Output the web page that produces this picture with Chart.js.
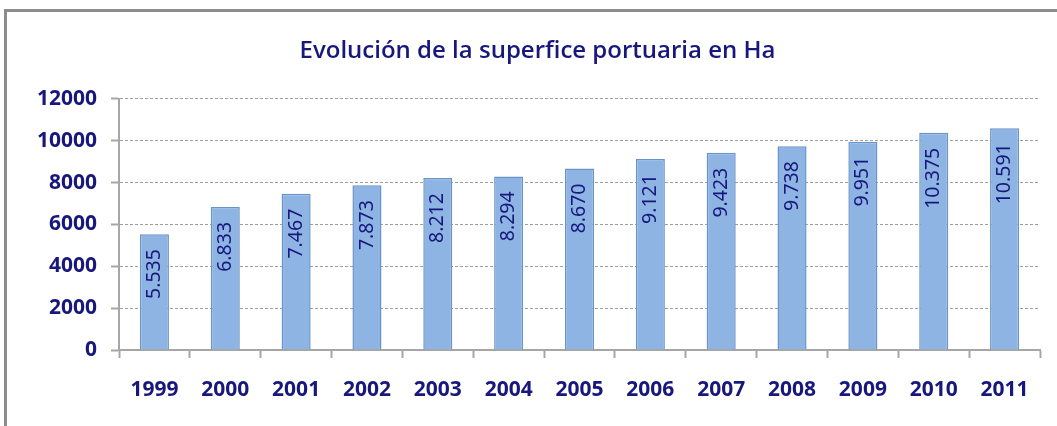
<!DOCTYPE html>
<html>
<head>
<meta charset="utf-8">
<script src="https://cdn.jsdelivr.net/npm/chart.js@4"></script>
<style>
    html, body { margin: 0; padding: 0; background: #fff; }
    #marco {
        position: absolute; left: 0; top: 0; width: 1057px; height: 426px;
    }
    #borde {
        position: absolute; left: 4px; top: 9px; right: -10px; bottom: -10px;
        border-top: 3px solid #8c8c8c; border-left: 3px solid #8c8c8c;
        pointer-events: none;
    }
</style>
</head>
<body>
<div id="marco">
    <canvas id="graficoBarras" width="1057" height="426"></canvas>
    <div id="borde"></div>
</div>
<script>
// Datos del gráfico
const anos = ['1999', '2000', '2001', '2002', '2003', '2004', '2005', '2006', '2007', '2008', '2009', '2010', '2011'];
const superficie = [5535, 6833, 7467, 7873, 8212, 8294, 8670, 9121, 9423, 9738, 9951, 10375, 10591];

const azulTexto = '#17177c';

function formatoMiles(v) {
    return String(v).replace(/\B(?=(\d{3})+(?!\d))/g, '.');
}

const ctx = document.getElementById('graficoBarras').getContext('2d');

new Chart(ctx, {
    type: 'bar',
    data: {
        labels: anos,
        datasets: [{
            label: 'Superficie (Ha)',
            data: superficie,
            backgroundColor: '#8eb4e3',
            borderColor: '#6a94c8',
            borderWidth: 1.5,
            categoryPercentage: 1,
            barPercentage: 0.41
        }]
    },
    options: {
        responsive: false,
        animation: false,
        layout: {
            padding: { left: 35, right: 17, top: 0, bottom: 24 }
        },
        plugins: {
            legend: { display: false },
            tooltip: { enabled: false },
            title: {
                display: true,
                text: 'Evolución de la superfice portuaria en Ha',
                color: azulTexto,
                font: { family: 'Open Sans', size: 24, weight: 600 },
                padding: { top: 37, bottom: 33 }
            }
        },
        scales: {
            x: {
                grid: {
                    offset: true,
                    drawOnChartArea: false,
                    drawTicks: true,
                    tickLength: 8,
                    tickColor: '#a6a6a6',
                    tickWidth: 2
                },
                border: { color: '#a6a6a6', width: 2 },
                ticks: {
                    color: azulTexto,
                    padding: 19,
                    maxRotation: 0,
                    font: { family: 'Noto Sans', size: 21, weight: 'bold' }
                },
                afterFit(scale) { scale.height = 52; }
            },
            y: {
                min: 0,
                max: 12000,
                grid: {
                    color: '#9e9e9e',
                    lineWidth: 1,
                    tickLength: 8,
                    tickColor: '#a6a6a6',
                    tickWidth: 2
                },
                border: { color: '#a6a6a6', width: 2, dash: [3, 2] },
                ticks: {
                    stepSize: 2000,
                    color: azulTexto,
                    padding: 14,
                    font: { family: 'Noto Sans', size: 21, weight: 'bold' },
                    callback: (v) => String(v)
                },
                afterFit(scale) { scale.width = 84; }
            }
        }
    },
    plugins: [{
        // Etiquetas verticales dentro de cada barra
        id: 'etiquetasBarras',
        afterDatasetsDraw(chart) {
            const { ctx } = chart;
            const meta = chart.getDatasetMeta(0);
            ctx.save();
            ctx.font = '19.5px "Noto Sans"';
            ctx.fillStyle = azulTexto;
            ctx.textAlign = 'right';
            ctx.textBaseline = 'middle';
            meta.data.forEach((barra, i) => {
                ctx.save();
                ctx.translate(barra.x, barra.y + 15);
                ctx.rotate(-Math.PI / 2);
                ctx.fillText(formatoMiles(superficie[i]), 0, 0);
                ctx.restore();
            });
            ctx.restore();
        }
    }]
});
</script>
</body>
</html>
